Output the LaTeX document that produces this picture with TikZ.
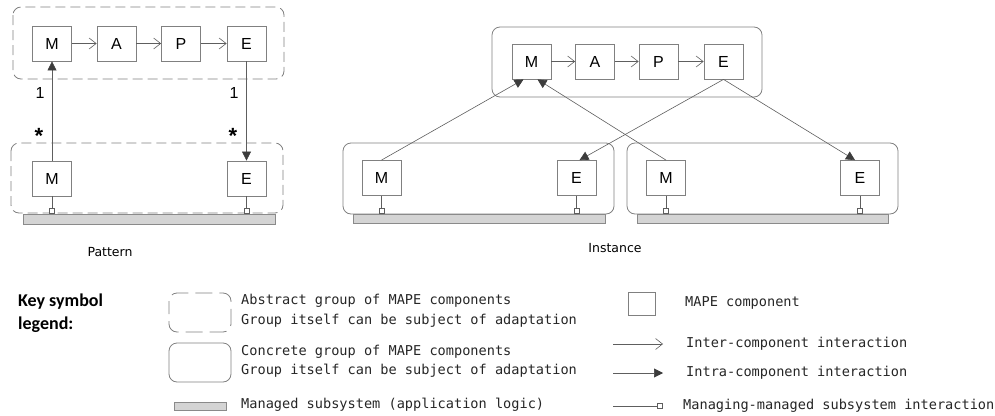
\documentclass[tikz,border=0pt]{standalone}
\usepackage{fontspec}
\setmainfont{Liberation Sans}
\newfontfamily\legendmono{DejaVu Sans Mono}
\newfontfamily\keyfont{Carlito}
\newfontfamily\captionfont{DejaVu Sans}
\usetikzlibrary{arrows.meta,positioning}
\usepackage{xcolor}
\definecolor{BoxGray}{HTML}{808080}
\definecolor{LineGray}{HTML}{5E5E5E}
\definecolor{HeadGray}{HTML}{3C3C3C}
\definecolor{BarFill}{HTML}{D4D4D4}
\definecolor{BarDraw}{HTML}{8A8A8A}
\definecolor{TextGray}{HTML}{262626}

\begin{document}
\begin{tikzpicture}[x=1pt,y=-1pt,
  mape/.style={draw=BoxGray,fill=white,line width=0.8pt,minimum width=39pt,minimum height=35pt,inner sep=0pt,font=\fontsize{16}{18}\selectfont},
  absgroup/.style={draw=BoxGray,line width=0.8pt,rounded corners=8pt,dash pattern=on 10pt off 5pt},
  congroup/.style={draw=BoxGray,line width=0.8pt,rounded corners=8pt},
  bar/.style={draw=BarDraw,fill=BarFill,line width=0.8pt},
  port/.style={draw=LineGray,fill=white,line width=0.6pt,minimum size=5pt,inner sep=0pt},
  inter/.style={draw=LineGray,line width=0.6pt,-{Straight Barb[length=7pt,width=11pt]}},
  intra/.style={draw=LineGray,line width=0.6pt,-{Triangle[length=9pt,width=9pt,color=HeadGray]}},
  link/.style={draw=LineGray,line width=0.6pt},
  mult/.style={font=\fontsize{16}{18}\selectfont,inner sep=0pt},
  many/.style={font=\bfseries\fontsize{22}{24}\selectfont,inner sep=0pt},
  note/.style={font=\legendmono\fontsize{13.6}{16}\selectfont,text=TextGray,anchor=west,inner sep=0pt}]
\useasboundingbox (0,0) rectangle (995,415);

% pattern
\draw[absgroup] (13,7) rectangle (284,79);
\node[mape] (ptm) at (52,43.5) {M};
\node[mape] (pta) at (116.5,43.5) {A};
\node[mape] (ptp) at (181,43.5) {P};
\node[mape] (pte) at (246.5,43.5) {E};
\draw[inter] (ptm) -- (pta);
\draw[inter] (pta) -- (ptp);
\draw[inter] (ptp) -- (pte);
\draw[absgroup] (11,143) rectangle (283,213);
\draw[bar] (23,214) rectangle (275,224);
\node[mape] (pbm) at (52,178.5) {M};
\node[mape] (pbe) at (246.5,178.5) {E};
\node[port] (pbmp) at (52,210.5) {};
\node[port] (pbep) at (246.5,210.5) {};
\draw[link] (pbm) -- (pbmp);
\draw[link] (pbe) -- (pbep);
\draw[intra] (pbm) -- (ptm);
\draw[intra] (pte) -- (pbe);
\node[mult] (pone1) at (40,93) {1};
\node[many] (pmany1) at (39,136) {*};
\node[mult] (pone2) at (234,93) {1};
\node[many] (pmany2) at (233,136) {*};
\node[font=\captionfont\fontsize{12.5}{14}\selectfont] (pcap) at (110,252) {Pattern};

% instance
\draw[congroup] (492,27) rectangle (762,97);
\node[mape] (itm) at (531.5,61.5) {M};
\node[mape] (ita) at (595,61.5) {A};
\node[mape] (itp) at (658.5,61.5) {P};
\node[mape] (ite) at (723.5,61.5) {E};
\draw[inter] (itm) -- (ita);
\draw[inter] (ita) -- (itp);
\draw[inter] (itp) -- (ite);
\draw[congroup] (343,143) rectangle (614,214);
\draw[bar] (353,214) rectangle (605,223);
\draw[congroup] (627,143) rectangle (898,214);
\draw[bar] (637,214) rectangle (888,223);
\node[mape] (ilm) at (381.5,178) {M};
\node[mape] (ile) at (576.5,178) {E};
\node[mape] (irm) at (666,178) {M};
\node[mape] (ire) at (860,178) {E};
\node[port] (ilmp) at (381.5,210.5) {};
\node[port] (ilep) at (576.5,210.5) {};
\node[port] (irmp) at (666,210.5) {};
\node[port] (irep) at (860,210.5) {};
\draw[link] (ilm) -- (ilmp);
\draw[link] (ile) -- (ilep);
\draw[link] (irm) -- (irmp);
\draw[link] (ire) -- (irep);
\draw[intra] (ilm.north) -- ([xshift=-8pt]itm.south);
\draw[intra] (irm.north) -- ([xshift=6pt]itm.south);
\draw[intra] (ite.south) -- ([xshift=3pt]ile.north);
\draw[intra] (ite.south) -- ([xshift=-5pt]ire.north);
\node[font=\captionfont\fontsize{12.5}{14}\selectfont] (icap) at (615,248) {Instance};

% legend
\node[font=\keyfont\bfseries\fontsize{18}{23}\selectfont,align=left,anchor=north west,inner sep=0pt] (key) at (18,294) {Key symbol\\legend:};
\draw[absgroup,dash pattern=on 17pt off 7pt,dash phase=4pt] (169,293) rectangle (231,332);
\node[note] (labs1) at (241,301) {Abstract group of MAPE components};
\node[note] (labs2) at (241,321) {Group itself can be subject of adaptation};
\draw[congroup] (169,343) rectangle (231,382);
\node[note] (lcon1) at (241,352) {Concrete group of MAPE components};
\node[note] (lcon2) at (241,371) {Group itself can be subject of adaptation};
\draw[bar] (174,402) rectangle (226,410);
\node[note] (lbar) at (241,405) {Managed subsystem (application logic)};
\node[mape,minimum width=27pt,minimum height=23pt] (lbox) at (641.5,303.5) {};
\node[note] (lmape) at (685,303) {MAPE component};
\coordinate (li1) at (613,344);
\coordinate (li2) at (663,344);
\draw[inter] (li1) -- (li2);
\node[note] (linter) at (686,344) {Inter-component interaction};
\coordinate (lt1) at (613,373);
\coordinate (lt2) at (663,373);
\draw[intra] (lt1) -- (lt2);
\node[note] (lintra) at (686,373) {Intra-component interaction};
\coordinate (lm1) at (613,406);
\node[port] (lmp) at (660,406) {};
\draw[link] (lm1) -- (lmp);
\node[note] (lmanage) at (683,406) {Managing-managed subsystem interaction};
\end{tikzpicture}
\end{document}
